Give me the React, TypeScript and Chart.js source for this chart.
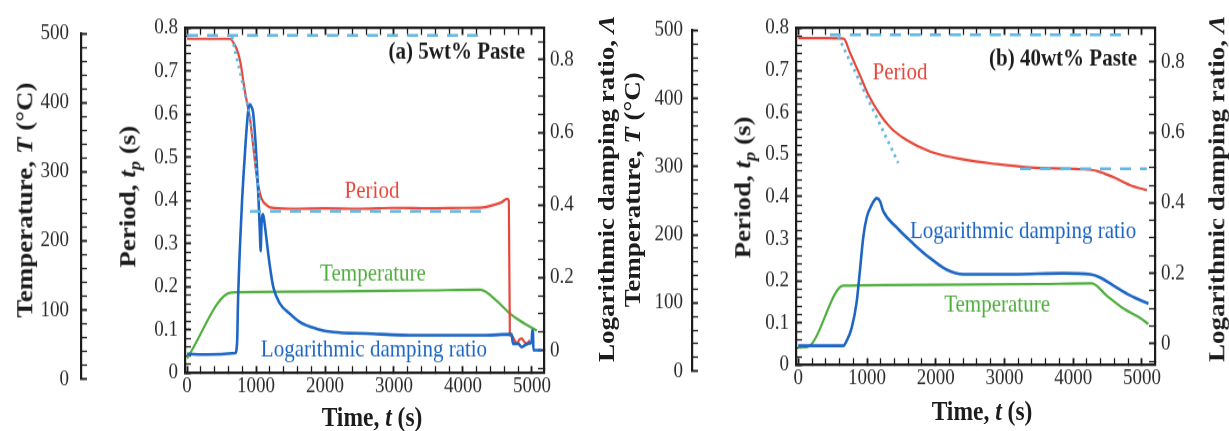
import React, { useEffect, useRef } from 'react';
import { Chart, registerables } from 'chart.js';
Chart.register(...registerables);

// ---------- general look ----------
const STRETCH = 1.15; // the scanned figure is slightly taller than wide
const CANVAS_H = 375;
const SERIF = "'Liberation Serif', 'Times New Roman', serif";
const INK = '#1c1c1c';
const LABEL_INK = '#2b2b2b';
const RED = '#e5483b';
const BLUE = '#1d66c4';
const GREEN = '#4fae3e';
const CYAN = '#62b7e3';
const TICK_FONT = { family: SERIF, size: 19 };
const TITLE_SIZE = 23.5;
const TICK_LEN = -6; // negative: tick marks point into the plot

// ---------- Panel (a): 5wt% Paste ----------
const aPeriodT = [0, 300, 620, 700, 739, 780, 812, 860, 913, 960, 1014, 1060, 1101, 1150, 1203, 1500, 2000, 2500, 3000, 3500, 4000, 4290, 4450, 4560, 4640, 4665, 4680, 4710, 4750, 4783, 4820, 4855, 4890, 4927, 4970];
const aPeriodV = [0.775, 0.775, 0.775, 0.758, 0.743, 0.715, 0.68, 0.635, 0.589, 0.525, 0.451, 0.415, 0.398, 0.39, 0.384, 0.381, 0.382, 0.381, 0.383, 0.382, 0.383, 0.384, 0.39, 0.396, 0.404, 0.4, 0.088, 0.087, 0.075, 0.069, 0.078, 0.08, 0.072, 0.069, 0.076];

const aDampT = [0, 300, 696, 725, 739, 770, 797, 840, 884, 913, 935, 957, 986, 1014, 1040, 1060, 1066, 1080, 1101, 1130, 1155, 1203, 1251, 1348, 1493, 1638, 1880, 2120, 2604, 3329, 4295, 4705, 4725, 4802, 4850, 4899, 4947, 4995, 5005, 5015, 5022, 5140];
const aDampV = [-0.01, -0.012, -0.008, 0.02, 0.137, 0.3, 0.41, 0.546, 0.655, 0.677, 0.67, 0.655, 0.59, 0.5, 0.4, 0.3, 0.273, 0.35, 0.374, 0.34, 0.3, 0.228, 0.173, 0.128, 0.1, 0.077, 0.059, 0.05, 0.046, 0.041, 0.041, 0.044, 0.018, 0.018, 0.009, 0.014, 0.018, 0.022, 0.055, 0.05, 0.0, 0.0];

const aTempT = [0, 640, 1500, 2500, 3500, 4250, 4490, 4680, 4830, 5070];
const aTempV = [30, 125, 126, 127, 128, 129, 113, 94.6, 84, 70];

const aFitTopT = [0, 4250];
const aFitTopV = [0.783, 0.783];
const aFitSlopeT = [650, 913, 1060];
const aFitSlopeV = [0.78, 0.597, 0.39];
const aFitLowT = [913, 4390];
const aFitLowV = [0.375, 0.375];

// ---------- Panel (b): 40wt% Paste ----------
const bPeriodT = [0, 400, 660, 752, 898, 1019, 1189, 1335, 1577, 1917, 2402, 2888, 3373, 4101, 4343, 4585, 4828, 5071];
const bPeriodV = [0.776, 0.776, 0.775, 0.742, 0.688, 0.642, 0.595, 0.565, 0.534, 0.507, 0.488, 0.477, 0.469, 0.465, 0.461, 0.446, 0.427, 0.415];

const bDampT = [0, 400, 655, 704, 777, 850, 898, 946, 995, 1068, 1141, 1189, 1237, 1432, 1674, 1917, 2160, 2402, 3130, 3857, 4246, 4391, 4585, 4828, 5094];
const bDampV = [-0.006, -0.006, -0.006, 0.008, 0.045, 0.119, 0.21, 0.303, 0.358, 0.394, 0.413, 0.405, 0.376, 0.33, 0.284, 0.243, 0.21, 0.197, 0.197, 0.2, 0.197, 0.188, 0.165, 0.137, 0.114];

const bTempT = [0, 122, 655, 2000, 3500, 4270, 4488, 4731, 4974, 5094];
const bTempV = [35, 35, 125.6, 127, 128, 129, 111, 92, 78, 69];

const bFitTopT = [460, 4760];
const bFitTopV = [0.784, 0.784];
const bFitSlopeT = [582, 1455];
const bFitSlopeV = [0.78, 0.48];
const bFitLowT = [3227, 5071];
const bFitLowV = [0.466, 0.466];

// ---------- axis ticks (major = labelled, minor = unlabelled) ----------
const timeMajor = 1000;
const timeMinor = 200;
const periodMajor = 0.1;
const periodMinor = 0.02;
const dampMajor = 0.2;
const dampMinor = 0.05;
const tempMajor = 100;
const tempMinor = 20;

// ---------- helpers ----------
const pts = (t: number[], v: number[]) => t.map((x, i) => ({ x, y: v[i] }));
const fmt = (v: any) => String(Math.round(Number(v) * 100) / 100);
const isMult = (v: number, step: number) => Math.abs(v / step - Math.round(v / step)) < 1e-6;

function stepTicks(min: number, max: number, step: number) {
  const out: { value: number }[] = [];
  const a = Math.ceil(min / step - 1e-9);
  const b = Math.floor(max / step + 1e-9);
  for (let i = a; i <= b; i++) out.push({ value: Math.round(i * step * 1e6) / 1e6 });
  return out;
}

// scale with inward major+minor ticks drawn by Chart.js itself
function sciScale(position: string, min: number, max: number, major: number, minor: number, pad: number, showLabels = true): any {
  return {
    type: 'linear',
    position,
    min,
    max,
    afterBuildTicks: (s: any) => { s.ticks = stepTicks(min, max, minor); },
    ticks: {
      display: showLabels,
      autoSkip: false,
      maxRotation: 0,
      padding: pad,
      font: TICK_FONT,
      color: LABEL_INK,
      callback: (v: any) => (isMult(Number(v), major) ? fmt(v) : ''),
    },
    grid: {
      display: true,
      drawOnChartArea: false,
      drawTicks: true,
      tickLength: TICK_LEN,
      tickColor: INK,
      tickWidth: (c: any) => (c && c.tick && isMult(c.tick.value, major) ? 1.9 : 1.3),
    },
    border: { display: true, color: INK, width: 2.2 },
  };
}

function makeNotes(notes: any[]) {
  return {
    id: 'sciNotes',
    afterDraw(chart: any) {
      const ctx: CanvasRenderingContext2D = chart.ctx;
      ctx.save();
      for (const n of notes) {
        const x = chart.scales.x.getPixelForValue(n.t);
        const y = chart.scales.yP.getPixelForValue(n.v);
        ctx.font = `${n.bold ? 'bold ' : ''}21px ${SERIF}`;
        ctx.fillStyle = n.color;
        ctx.textAlign = n.align;
        ctx.textBaseline = 'middle';
        ctx.fillText(n.text, x, y);
      }
      ctx.restore();
    },
  };
}

const lineDs = (data: any[], color: string, axis: string, width: number, extra: any = {}) => ({
  data,
  borderColor: color,
  borderWidth: width,
  pointRadius: 0,
  fill: false,
  xAxisID: 'x',
  yAxisID: axis,
  cubicInterpolationMode: 'monotone',
  ...extra,
});

function mainConfig(p: any): any {
  const x = sciScale('bottom', p.xMin, p.xMax, timeMajor, timeMinor, 6);
  x.afterFit = (s: any) => { s.height = p.bottomH; };
  const x2 = sciScale('top', p.xMin, p.xMax, timeMajor, timeMinor, 0, false);
  x2.afterFit = (s: any) => { s.height = 0; };
  const yP = sciScale('left', 0, 0.8, periodMajor, periodMinor, 13);
  yP.afterFit = (s: any) => { s.width = p.leftW; };
  const yD = sciScale('right', p.dMin, p.dMax, dampMajor, dampMinor, 12);
  yD.afterFit = (s: any) => { s.width = p.rightW; };
  return {
    type: 'line',
    data: {
      datasets: [
        lineDs(p.fitTop, CYAN, 'yP', 2.6, { borderDash: [11, 9], cubicInterpolationMode: 'default', tension: 0 }),
        lineDs(p.fitSlope, CYAN, 'yP', 2.8, { borderDash: [2.5, 4], cubicInterpolationMode: 'default', tension: 0 }),
        lineDs(p.fitLow, CYAN, 'yP', 2.6, { borderDash: [11, 9], cubicInterpolationMode: 'default', tension: 0 }),
        lineDs(p.damp, BLUE, 'yD', 2.6),
        lineDs(p.period, RED, 'yP', 2.2),
        lineDs(p.temp, GREEN, 'yT', 2.2),
      ],
    },
    plugins: [makeNotes(p.notes)],
    options: {
      animation: false,
      responsive: false,
      events: [],
      layout: { padding: { top: p.top, left: 0, right: 0, bottom: 0 } },
      plugins: { legend: { display: false }, tooltip: { enabled: false } },
      scales: {
        x,
        x2,
        yP,
        yD,
        yT: { type: 'linear', display: false, min: p.tMin, max: p.tMax },
      },
    },
  };
}

function tempConfig(top: number, bottom: number, axisX: number, pad: number): any {
  const yT = sciScale('left', 0, 500, tempMajor, tempMinor, pad);
  yT.afterFit = (s: any) => { s.width = axisX; };
  return {
    type: 'line',
    data: { datasets: [] },
    options: {
      animation: false,
      responsive: false,
      events: [],
      layout: { padding: { top, bottom: CANVAS_H - bottom, left: 0, right: 0 } },
      plugins: { legend: { display: false }, tooltip: { enabled: false } },
      scales: {
        x: { type: 'linear', display: false, min: 0, max: 1 },
        yT,
      },
    },
  };
}

const mainA = () => mainConfig({
  xMin: -30, xMax: 5175, dMin: -0.0628, dMax: 0.887, tMin: 8.6, tMax: 507.2,
  leftW: 95, rightW: 76, top: 21.74, bottomH: CANVAS_H - 324.35,
  period: pts(aPeriodT, aPeriodV), damp: pts(aDampT, aDampV), temp: pts(aTempT, aTempV),
  fitTop: pts(aFitTopT, aFitTopV), fitSlope: pts(aFitSlopeT, aFitSlopeV), fitLow: pts(aFitLowT, aFitLowV),
  notes: [
    { text: 'Period', t: 2681, v: 0.421, color: RED, align: 'center' },
    { text: 'Temperature', t: 2696, v: 0.23, color: GREEN, align: 'center' },
    { text: 'Logarithmic damping ratio', t: 2710, v: 0.053, color: BLUE, align: 'center' },
    { text: '(a) 5wt% Paste', t: 4899, v: 0.743, color: INK, bold: true, align: 'right' },
  ],
});

const mainB = () => mainConfig({
  xMin: -33, xMax: 5190, dMin: -0.0607, dMax: 0.8966, tMin: 8.6, tMax: 505.7,
  leftW: 96, rightW: 74, top: 15.65, bottomH: CANVAS_H - 317.39,
  period: pts(bPeriodT, bPeriodV), damp: pts(bDampT, bDampV), temp: pts(bTempT, bTempV),
  fitTop: pts(bFitTopT, bFitTopV), fitSlope: pts(bFitSlopeT, bFitSlopeV), fitLow: pts(bFitLowT, bFitLowV),
  notes: [
    { text: 'Period', t: 1480, v: 0.692, color: RED, align: 'center' },
    { text: 'Logarithmic damping ratio', t: 3270, v: 0.316, color: BLUE, align: 'center' },
    { text: 'Temperature', t: 2892, v: 0.143, color: GREEN, align: 'center' },
    { text: '(b) 40wt% Paste', t: 4930, v: 0.726, color: INK, bold: true, align: 'right' },
  ],
});

const tempA = () => tempConfig(26.09, 329.57, 81, 18);
const tempB = () => tempConfig(19.13, 322.61, 92, 15);

function ChartBox({ left, width, make }: { left: number; width: number; make: () => any }) {
  const ref = useRef<HTMLCanvasElement>(null);
  useEffect(() => {
    const c = new Chart(ref.current as HTMLCanvasElement, make());
    return () => c.destroy();
  }, []);
  return (
    <canvas
      ref={ref}
      width={width}
      height={CANVAS_H}
      style={{ position: 'absolute', left, top: 0, width, height: CANVAS_H }}
    />
  );
}

// axis titles as real text
function AxisTitle({ x, y, rot, children }: { x: number; y: number; rot: boolean; children: any }) {
  return (
    <div
      style={{
        position: 'absolute', left: x, top: y, whiteSpace: 'nowrap',
        transform: `translate(-50%, -50%)${rot ? ' rotate(-90deg)' : ''}`,
        fontFamily: SERIF, fontWeight: 'bold', fontSize: TITLE_SIZE, lineHeight: 1, color: INK,
      }}
    >
      {children}
    </div>
  );
}

const PeriodT = () => (<>Period, <i>t</i><i style={{ fontSize: TITLE_SIZE * 0.68, position: 'relative', top: TITLE_SIZE * 0.2 }}>p</i> (s)</>);
const DampT = () => (<>Logarithmic damping ratio, <i>Λ</i></>);
const TempT = () => (<>Temperature, <i>T</i> (°C)</>);
const TimeT = () => (<>Time, <i>t</i> (s)</>);

export default function App() {
  return (
    <div style={{ position: 'absolute', left: 0, top: 0, width: 1229, height: 431, overflow: 'hidden', background: '#fff' }}>
      <div
        style={{
          position: 'absolute', left: 0, top: 0, width: 1229, height: CANVAS_H,
          transform: `scaleY(${STRETCH})`, transformOrigin: '0 0',
        }}
      >
        <ChartBox left={0} width={110} make={tempA} />
        <ChartBox left={90} width={530} make={mainA} />
        <ChartBox left={600} width={110} make={tempB} />
        <ChartBox left={700} width={529} make={mainB} />
        <AxisTitle x={25} y={174} rot><TempT /></AxisTitle>
        <AxisTitle x={128} y={171} rot><PeriodT /></AxisTitle>
        <AxisTitle x={607} y={164} rot><DampT /></AxisTitle>
        <AxisTitle x={372} y={363} rot={false}><TimeT /></AxisTitle>
        <AxisTitle x={633} y={165} rot><TempT /></AxisTitle>
        <AxisTitle x={743} y={162.6} rot><PeriodT /></AxisTitle>
        <AxisTitle x={1217} y={163.5} rot><DampT /></AxisTitle>
        <AxisTitle x={982} y={358} rot={false}><TimeT /></AxisTitle>
      </div>
    </div>
  );
}
